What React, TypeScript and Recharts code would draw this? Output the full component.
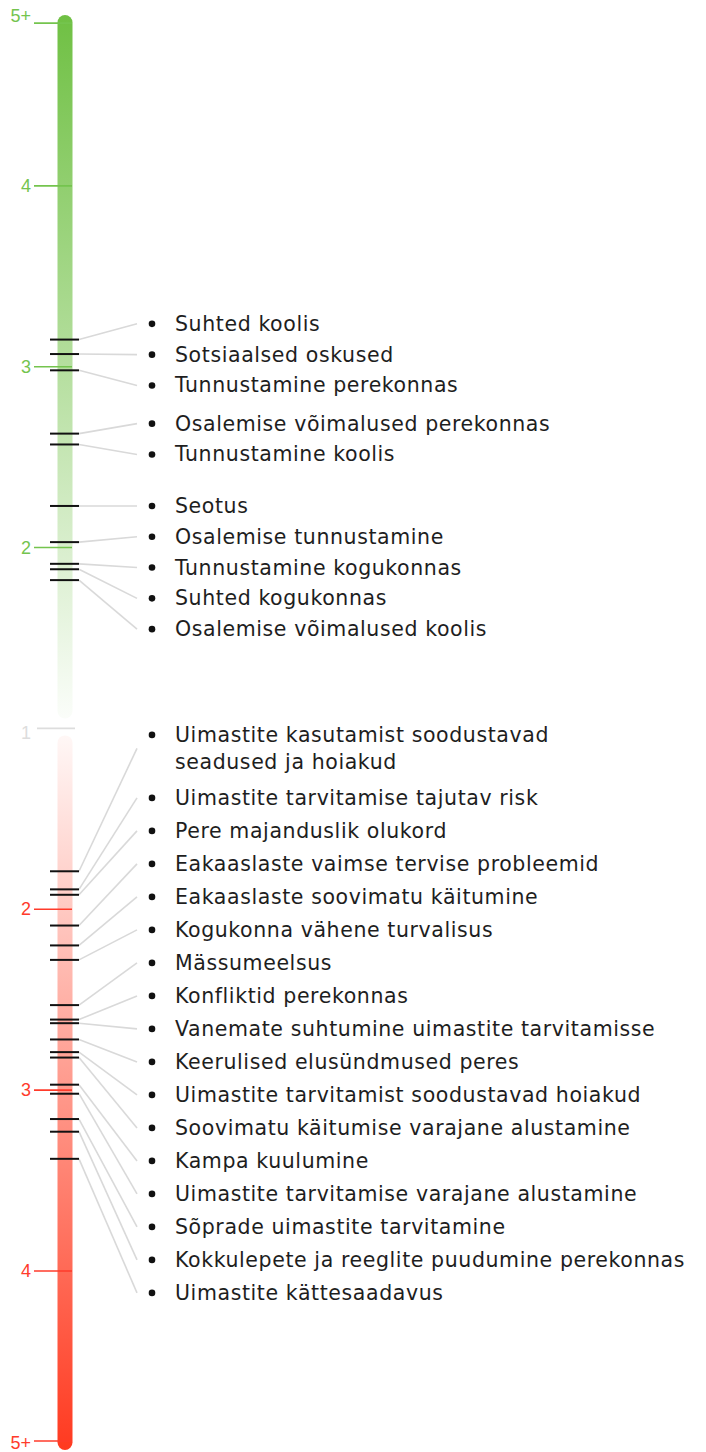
import React from 'react';
import { ComposedChart, XAxis, YAxis, Scatter, ReferenceArea, ReferenceLine } from 'recharts';

// ---------------- data ----------------
const protectiveFactors = [
  'Suhted koolis',
  'Sotsiaalsed oskused',
  'Tunnustamine perekonnas',
  'Osalemise võimalused perekonnas',
  'Tunnustamine koolis',
  'Seotus',
  'Osalemise tunnustamine',
  'Tunnustamine kogukonnas',
  'Suhted kogukonnas',
  'Osalemise võimalused koolis',
];
const protectiveScores = [3.15, 3.07, 2.98, 2.63, 2.57, 2.23, 2.03, 1.91, 1.88, 1.82];

const riskFactors = [
  'Uimastite kasutamist soodustavad\nseadused ja hoiakud',
  'Uimastite tarvitamise tajutav risk',
  'Pere majanduslik olukord',
  'Eakaaslaste vaimse tervise probleemid',
  'Eakaaslaste soovimatu käitumine',
  'Kogukonna vähene turvalisus',
  'Mässumeelsus',
  'Konfliktid perekonnas',
  'Vanemate suhtumine uimastite tarvitamisse',
  'Keerulised elusündmused peres',
  'Uimastite tarvitamist soodustavad hoiakud',
  'Soovimatu käitumise varajane alustamine',
  'Kampa kuulumine',
  'Uimastite tarvitamise varajane alustamine',
  'Sõprade uimastite tarvitamine',
  'Kokkulepete ja reeglite puudumine perekonnas',
  'Uimastite kättesaadavus',
];
const riskScores = [1.79, 1.89, 1.92, 2.09, 2.2, 2.28, 2.53, 2.61, 2.63, 2.72, 2.79, 2.82, 2.97, 3.02, 3.16, 3.23, 3.38];

const scaleValues = [2, 3, 4];
const scaleLabels = ['2', '3', '4'];
const neutralValue = 1;
const neutralLabel = '1';
const capLabel = '5+';
const protectiveCapValue = 4.9;
const riskCapValue = 4.94;

// ---------------- layout / style ----------------
const W = 706;
const H = 1452;
const M_TOP = 5;
const M_BOTTOM = 2;
const Y_MIN = -3.99;
const Y_MAX = 4;
const K = (H - M_TOP - M_BOTTOM) / (Y_MAX - Y_MIN); // px per unit
const u = (px: number) => px / K;

const GREEN = '#6fc043';
const RED = '#ff3a20';
const GREEN_TEXT = '#74c44e';
const RED_TEXT = '#ff3b2b';
const NEUTRAL = '#dddddd';
const MARK = '#111111';
const LINK = '#d9d9d9';
const FONT = '"DejaVu Sans", sans-serif';
const TICK_FONT = '"Liberation Sans", Arial, sans-serif';

const BAR_X0 = 57.5;
const BAR_X1 = 72.5;
const BAR_R = 7.5;
const BAR_GAP = 8;
const TICK_X0 = 34;
const TICK_X1 = 72;
const MARK_X0 = 50;
const MARK_X1 = 79;
const LINK_X1 = 137;
const BULLET_X = 152;
const TEXT_DX = 23;
const ROW_PROTECTIVE = 30.8;
const ROW_RISK = 33;
const LINE_GAP = 27;
const ZONE_PAD = 13;

type Side = 'protective' | 'risk';
const toPos = (v: number, side: Side) => (side === 'protective' ? v - 1 : -(v - 1));

type Item = { name: string; lines: string[]; markPos: number; labelPos: number };

// label placement: greedy top-down clusters, each cluster re-centred on its marks
// as far as the previous cluster (or the zone edge) allows. Works in depth = -pos.
function buildItems(names: string[], scores: number[], side: Side, rowPx: number, zoneTop: number): Item[] {
  const items = names.map((n, i) => ({
    name: n,
    lines: n.split('\n'),
    markPos: toPos(scores[i], side),
    labelPos: 0,
  }));
  items.sort((a, b) => b.markPos - a.markPos);
  const n = items.length;
  const h = items.map((it) => u(it.lines.length * rowPx));
  const t = items.map((it) => -it.markPos);
  const p: number[] = new Array(n).fill(0);
  let prevBottom = zoneTop;
  let i = 0;
  while (i < n) {
    const start = i;
    p[i] = Math.max(t[i], prevBottom + h[i] / 2);
    while (i + 1 < n && t[i + 1] < p[i] + (h[i] + h[i + 1]) / 2) {
      p[i + 1] = p[i] + (h[i] + h[i + 1]) / 2;
      i++;
    }
    let s = 0;
    for (let k = start; k <= i; k++) s += p[k] - t[k];
    s /= i - start + 1;
    s = Math.min(s, p[start] - h[start] / 2 - prevBottom);
    if (s > 0) for (let k = start; k <= i; k++) p[k] -= s;
    prevBottom = p[i] + h[i] / 2;
    i++;
  }
  items.forEach((it, k) => (it.labelPos = -p[k]));
  return items;
}

const protectiveItems = buildItems(protectiveFactors, protectiveScores, 'protective', ROW_PROTECTIVE, -Y_MAX);
const riskItems = buildItems(riskFactors, riskScores, 'risk', ROW_RISK, -u(ZONE_PAD));
const allItems = [...protectiveItems, ...riskItems];

type Tick = { pos: number; label: string; color: string; kind: 'top' | 'bottom' | 'mid' };
const ticks: Tick[] = [
  { pos: toPos(protectiveCapValue, 'protective'), label: capLabel, color: GREEN_TEXT, kind: 'top' },
  ...scaleValues.map((v, i) => ({ pos: toPos(v, 'protective'), label: scaleLabels[i], color: GREEN_TEXT, kind: 'mid' as const })),
  { pos: toPos(neutralValue, 'protective'), label: neutralLabel, color: NEUTRAL, kind: 'mid' },
  ...scaleValues.map((v, i) => ({ pos: toPos(v, 'risk'), label: scaleLabels[i], color: RED_TEXT, kind: 'mid' as const })),
  { pos: toPos(riskCapValue, 'risk'), label: capLabel, color: RED_TEXT, kind: 'bottom' },
];

const tickTextData = ticks.map((t) => ({ x: TICK_X0 - 3, y: t.pos, label: t.label, color: t.color, kind: t.kind }));
const labelData = allItems.map((it) => ({ x: BULLET_X, y: it.labelPos, lines: it.lines }));

const TickText = (p: any) => {
  const { cx, cy, payload } = p;
  let y = cy;
  let base: any = 'central';
  if (payload.kind === 'top') {
    y = cy - 1;
    base = 'auto';
  } else if (payload.kind === 'bottom') {
    y = cy + 2;
  } else if (payload.label === neutralLabel) {
    y = cy + 5;
  }
  return (
    <text x={cx} y={y} textAnchor="end" dominantBaseline={base} fill={payload.color} fontFamily={TICK_FONT} fontSize={18}>
      {payload.label}
    </text>
  );
};

const LabelShape = (p: any) => {
  const { cx, cy, payload } = p;
  const n = payload.lines.length;
  const y0 = cy - ((n - 1) * LINE_GAP) / 2;
  return (
    <g>
      <circle cx={cx} cy={y0} r={3.3} fill="#111" />
      <text
        x={cx + TEXT_DX}
        y={y0}
        dominantBaseline="central"
        fill="#1e1e1e"
        fontFamily={FONT}
        fontSize={20.5}
        letterSpacing={0.6}
      >
        {payload.lines.map((l: string, i: number) => (
          <tspan key={i} x={cx + TEXT_DX} dy={i === 0 ? 0 : LINE_GAP}>
            {l}
          </tspan>
        ))}
      </text>
    </g>
  );
};

const barShape = (fill: string) => (p: any) => (
  <rect x={p.x} y={p.y} width={p.width} height={p.height} rx={p.width / 2} ry={p.width / 2} fill={fill} />
);

export default function App() {
  const greenTop = toPos(protectiveCapValue, 'protective') + u(BAR_R + 0.5);
  const redBottom = Math.max(toPos(riskCapValue, 'risk') - u(BAR_R + 1.5), Y_MIN);
  return (
    <div style={{ position: 'absolute', left: 0, top: 0, width: W, height: H, background: '#fff' }}>
      <ComposedChart width={W} height={H} margin={{ top: M_TOP, right: 0, bottom: M_BOTTOM, left: 0 }}>
        <defs>
          <linearGradient id="gradGreen" x1="0" y1="0" x2="0" y2="1">
            <stop offset="0" stopColor={GREEN} stopOpacity={1} />
            <stop offset="1" stopColor={GREEN} stopOpacity={0.03} />
          </linearGradient>
          <linearGradient id="gradRed" x1="0" y1="0" x2="0" y2="1">
            <stop offset="0" stopColor={RED} stopOpacity={0.04} />
            <stop offset="1" stopColor={RED} stopOpacity={1} />
          </linearGradient>
        </defs>
        <XAxis type="number" dataKey="x" domain={[0, W]} hide allowDataOverflow />
        <YAxis type="number" dataKey="y" domain={[Y_MIN, Y_MAX]} hide allowDataOverflow />

        <ReferenceArea
          x1={BAR_X0}
          x2={BAR_X1}
          y1={u(BAR_GAP + 2)}
          y2={greenTop}
          ifOverflow="visible"
          shape={barShape('url(#gradGreen)')}
        />
        <ReferenceArea
          x1={BAR_X0}
          x2={BAR_X1}
          y1={-u(BAR_GAP - 1)}
          y2={redBottom}
          ifOverflow="visible"
          shape={barShape('url(#gradRed)')}
        />

        {ticks.map((t, i) => (
          <ReferenceLine
            key={'t' + i}
            segment={[
              { x: t.label === neutralLabel ? TICK_X0 + 3 : TICK_X0, y: t.pos },
              { x: t.label === neutralLabel ? TICK_X1 + 3 : TICK_X1, y: t.pos },
            ]}
            stroke={t.color}
            strokeWidth={1.6}
            ifOverflow="visible"
          />
        ))}

        {allItems.map((it, i) => (
          <ReferenceLine
            key={'l' + i}
            segment={[
              { x: MARK_X1, y: it.markPos },
              { x: LINK_X1, y: it.labelPos },
            ]}
            stroke={LINK}
            strokeWidth={1.6}
            ifOverflow="visible"
          />
        ))}

        {allItems.map((it, i) => (
          <ReferenceLine
            key={'m' + i}
            segment={[
              { x: MARK_X0, y: it.markPos },
              { x: MARK_X1, y: it.markPos },
            ]}
            stroke={MARK}
            strokeWidth={2}
            ifOverflow="visible"
          />
        ))}

        <Scatter data={tickTextData} shape={TickText} isAnimationActive={false} />
        <Scatter data={labelData} shape={LabelShape} isAnimationActive={false} />
      </ComposedChart>
    </div>
  );
}
